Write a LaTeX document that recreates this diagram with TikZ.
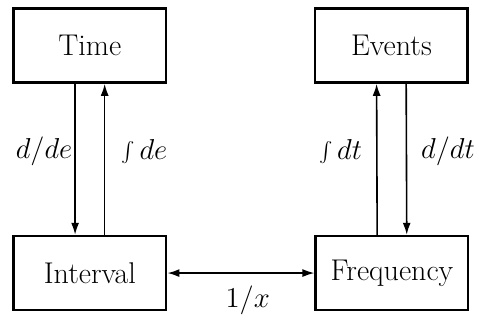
\documentclass[tikz,border=0pt]{standalone}
\usetikzlibrary{arrows.meta}
\begin{document}
\begin{tikzpicture}[
		every node/.style={font=\fontsize{15}{18}\selectfont},
		box/.style={rectangle, draw, line width=1.3pt, minimum width=2.68cm, minimum height=1.30cm, inner sep=0pt},
		arr/.style={-{Latex[length=6pt,width=4pt]}, line width=0.8pt},
		biarr/.style={{Latex[length=6pt,width=4pt]}-{Latex[length=6pt,width=4pt]}, line width=0.8pt}
	]
		\useasboundingbox (0,0) rectangle (8.42,-5.64);
		% Boxes
		\node[box] (time) at (1.58,-0.80) {Time};
		\node[box] (events) at (6.88,-0.80) {Events};
		\node[box] (ival) at (1.58,-4.80) {Interval};
		\node[box] (freq) at (6.89,-4.80) {Frequency};
		
		% Time <-> Interval
		\draw[arr] ([xshift=-0.26cm]time.south) -- node[pos=0.45, left, inner sep=1pt] (dde) {$d/de$} ([xshift=-0.26cm]ival.north);
		\draw[arr] ([xshift=0.26cm]ival.north) -- node[pos=0.55, right, inner sep=8pt] (ide) {$\int de$} ([xshift=0.26cm]time.south);
		
		% Events <-> Frequency
		\draw[arr] ([xshift=-0.26cm]freq.north) -- node[pos=0.55, left, inner sep=7pt] (idt) {$\int dt$} ([xshift=-0.26cm]events.south);
		\draw[arr] ([xshift=0.26cm]events.south) -- node[pos=0.45, right, inner sep=7pt] (ddt) {$d/dt$} ([xshift=0.26cm]freq.north);
		
		% Interval <-> Frequency
		\draw[biarr] (ival) -- node[below, xshift=0.12cm, inner sep=6pt] (inv) {$1/x$} (freq);
	\end{tikzpicture}
\end{document}
